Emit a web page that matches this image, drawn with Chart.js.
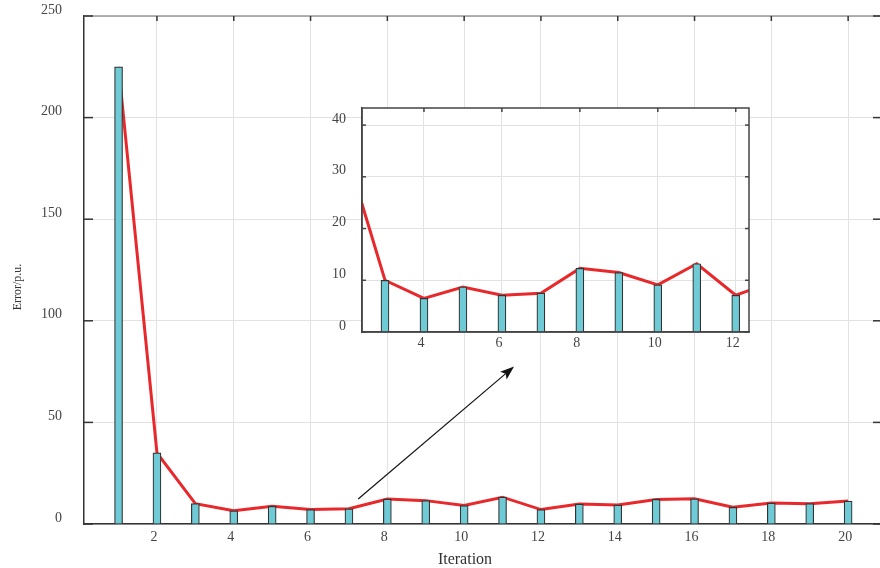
<!DOCTYPE html>
<html>
<head>
<meta charset="utf-8">
<script src="https://cdn.jsdelivr.net/npm/chart.js@4.4.1/dist/chart.umd.min.js"></script>
<style>
html, body { margin: 0; padding: 0; background: #fff; }
#wrap { position: relative; width: 880px; height: 568px; overflow: hidden; }
#main { position: absolute; left: 0; top: 0; }
#inset { position: absolute; left: 300px; top: 95px; }
</style>
</head>
<body>
<div id="wrap">
  <canvas id="main" width="880" height="568"></canvas>
  <canvas id="inset" width="460" height="265"></canvas>
</div>
<script>
const iterations = [1, 2, 3, 4, 5, 6, 7, 8, 9, 10, 11, 12, 13, 14, 15, 16, 17, 18, 19, 20];
const errors = [225, 35, 10, 6.5, 8.7, 7.1, 7.5, 12.3, 11.5, 9.1, 13.2, 7.1, 9.8, 9.3, 12.1, 12.4, 8.2, 10.3, 10.0, 11.3];

const mainXTicks = [2, 4, 6, 8, 10, 12, 14, 16, 18, 20];
const mainYTicks = [0, 50, 100, 150, 200, 250];
const insetXTicks = [4, 6, 8, 10, 12];
const insetYTicks = [0, 10, 20, 30, 40];

// arrow pointing from the tail of the curve up to the zoomed view (data coords)
const arrowFrom = [7.24, 12.3];
const arrowTo = [11.3, 77.5];

const serif = "'Liberation Serif', 'Times New Roman', serif";
Chart.defaults.font.family = serif;
Chart.defaults.color = '#444';

const gridColor = '#e2e2e2';
const axisColor = '#333';

function datasets() {
  const pts = iterations.map((x, i) => ({ x: x, y: errors[i] }));
  return [
    { type: 'bar', data: pts, backgroundColor: '#6ecbd6', borderColor: '#333',
      borderWidth: 1.2, barThickness: 8, order: 1 },
    { type: 'line', data: pts, borderColor: '#e8282b', borderWidth: 3,
      pointRadius: 0, tension: 0, order: 2 }
  ];
}

function setTicks(list) {
  return s => { s.ticks = list.map(v => ({ value: v })); };
}

function line(ctx, x1, y1, x2, y2) {
  ctx.beginPath(); ctx.moveTo(x1, y1); ctx.lineTo(x2, y2); ctx.stroke();
}

const mainFrame = {
  id: 'mainFrame',
  afterDraw(chart) {
    const { ctx, chartArea: a, scales } = chart;
    ctx.save();
    // top border
    ctx.strokeStyle = '#999'; ctx.lineWidth = 1.5;
    line(ctx, a.left, a.top, a.right, a.top);
    // inward ticks
    ctx.strokeStyle = axisColor; ctx.lineWidth = 1.5;
    mainXTicks.forEach(v => {
      const x = scales.x.getPixelForValue(v);
      line(ctx, x, a.top, x, a.top + 5);
    });
    mainYTicks.forEach(v => {
      const y = scales.y.getPixelForValue(v);
      line(ctx, a.left, y, a.left + 9, y);
      line(ctx, a.right - 7, y, a.right, y);
    });
    // arrow
    const x0 = scales.x.getPixelForValue(arrowFrom[0]), y0 = scales.y.getPixelForValue(arrowFrom[1]);
    const x1 = scales.x.getPixelForValue(arrowTo[0]), y1 = scales.y.getPixelForValue(arrowTo[1]);
    const ang = Math.atan2(y1 - y0, x1 - x0);
    const hl = 14, hw = 5;
    const bx = x1 - hl * Math.cos(ang), by = y1 - hl * Math.sin(ang);
    ctx.strokeStyle = '#111'; ctx.lineWidth = 1.2;
    line(ctx, x0, y0, bx + 3 * Math.cos(ang), by + 3 * Math.sin(ang));
    ctx.fillStyle = '#111';
    ctx.beginPath();
    ctx.moveTo(x1, y1);
    ctx.lineTo(bx - hw * Math.sin(ang), by + hw * Math.cos(ang));
    ctx.lineTo(bx + 3 * Math.cos(ang), by + 3 * Math.sin(ang));
    ctx.lineTo(bx + hw * Math.sin(ang), by - hw * Math.cos(ang));
    ctx.closePath(); ctx.fill();
    // axis titles
    ctx.fillStyle = '#333';
    ctx.font = '16px ' + serif;
    ctx.textAlign = 'center'; ctx.textBaseline = 'alphabetic';
    ctx.fillText('Iteration', 465, 564);
    ctx.translate(18, 287); ctx.rotate(-Math.PI / 2);
    ctx.font = '12px ' + serif; ctx.textBaseline = 'middle';
    ctx.fillText('Error/p.u.', 0, 0);
    ctx.restore();
  }
};

const insetFrame = {
  id: 'insetFrame',
  beforeDraw(chart) {
    const { ctx, chartArea: a } = chart;
    ctx.save(); ctx.fillStyle = '#fff';
    ctx.fillRect(a.left, a.top, a.right - a.left, a.bottom - a.top);
    ctx.restore();
  },
  afterDraw(chart) {
    const { ctx, chartArea: a, scales } = chart;
    ctx.save();
    ctx.strokeStyle = '#444'; ctx.lineWidth = 1.5;
    ctx.strokeRect(a.left, a.top, a.right - a.left, a.bottom - a.top);
    insetXTicks.forEach(v => {
      const x = scales.x.getPixelForValue(v);
      line(ctx, x, a.top, x, a.top + 4);
    });
    insetYTicks.forEach(v => {
      const y = scales.y.getPixelForValue(v);
      line(ctx, a.left, y, a.left + 4, y);
      line(ctx, a.right - 4, y, a.right, y);
    });
    ctx.restore();
  }
};

function fitX(h) {
  return s => { s.height = h; s.paddingLeft = 0; s.paddingRight = 0; };
}
function fitY(w) {
  return s => { s.width = w; s.paddingTop = 0; s.paddingBottom = 0; };
}

new Chart(document.getElementById('main'), {
  data: { datasets: datasets() },
  options: {
    responsive: false, animation: false,
    layout: { padding: { top: 16, right: 0, left: 0, bottom: 0 } },
    plugins: { legend: { display: false }, tooltip: { enabled: false } },
    scales: {
      x: {
        type: 'linear', min: 0.1, max: 20.83, offset: false,
        afterBuildTicks: setTicks(mainXTicks),
        afterFit: fitX(44),
        ticks: { font: { size: 14 }, padding: 5, labelOffset: -3, maxRotation: 0, autoSkip: false },
        grid: { color: gridColor, drawTicks: false, offset: false },
        border: { color: axisColor, width: 1.5 }
      },
      y: {
        min: 0, max: 250,
        afterBuildTicks: setTicks(mainYTicks),
        afterFit: fitY(84),
        ticks: { font: { size: 14 }, padding: 22, labelOffset: -6 },
        grid: { color: gridColor, drawTicks: false },
        border: { color: axisColor, width: 1.5 }
      }
    }
  },
  plugins: [mainFrame]
});

new Chart(document.getElementById('inset'), {
  data: { datasets: datasets() },
  options: {
    responsive: false, animation: false,
    layout: { padding: { top: 13, right: 11, left: 0, bottom: 0 } },
    plugins: { legend: { display: false }, tooltip: { enabled: false } },
    scales: {
      x: {
        type: 'linear', min: 2.41, max: 12.34, offset: false,
        afterBuildTicks: setTicks(insetXTicks),
        afterFit: fitX(28),
        ticks: { font: { size: 14 }, padding: 3, labelOffset: -3, maxRotation: 0, autoSkip: false },
        grid: { color: gridColor, drawTicks: false, offset: false },
        border: { color: '#444', width: 1.5 }
      },
      y: {
        min: 0, max: 43.3,
        afterBuildTicks: setTicks(insetYTicks),
        afterFit: fitY(62),
        ticks: { font: { size: 14 }, padding: 16, labelOffset: -6 },
        grid: { color: gridColor, drawTicks: false },
        border: { color: '#444', width: 1.5 }
      }
    }
  },
  plugins: [insetFrame]
});
</script>
</body>
</html>
